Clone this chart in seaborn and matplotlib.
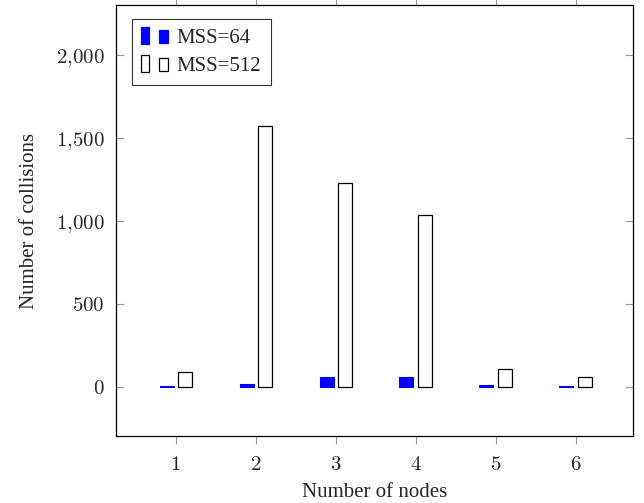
import matplotlib
matplotlib.use("Agg")
import matplotlib.pyplot as plt
import matplotlib.ticker as ticker
from matplotlib.legend_handler import HandlerBase
from matplotlib.patches import Rectangle, Patch
import pandas as pd
import seaborn as sns

# ─── Data ─────────────────────────────────────────────────────────────────────
nodes     = [1, 2, 3, 4, 5, 6]
mss_64    = [8, 20, 62, 62, 14, 8]
mss_512   = [90, 1572, 1230, 1035, 108, 60]
series    = ["MSS=64", "MSS=512"]
y_ticks   = [0, 500, 1000, 1500, 2000]

BLUE = "#0000ff"
TICK = "#9a9a9a"
FS   = 15

df = pd.DataFrame({
    "nodes": nodes * 2,
    "collisions": mss_64 + mss_512,
    "series": [series[0]] * len(nodes) + [series[1]] * len(nodes),
})

sns.set_theme(style="white")
plt.rcParams["font.family"] = ["Liberation Serif", "DejaVu Serif"]
plt.rcParams["mathtext.fontset"] = "cm"

fig = plt.figure(figsize=(6.44, 5.03), dpi=100)
ax = fig.add_axes([0.180, 0.133, 0.803, 0.857])

sns.barplot(
    data=df, x="nodes", y="collisions", hue="series",
    hue_order=series, native_scale=True,
    palette={series[0]: BLUE, series[1]: "white"},
    width=0.46, gap=0.24, ax=ax, legend=False,
    saturation=1, err_kws={"linewidth": 0},
)

# edge colours per series
n = len(nodes)
for i, bar in enumerate(ax.patches):
    if i < n:
        bar.set_edgecolor(BLUE)
        bar.set_linewidth(0.8)
    else:
        bar.set_edgecolor("black")
        bar.set_linewidth(0.9)


class TwoBarHandler(HandlerBase):
    """pgfplots-style ybar legend image: two small bars."""
    def create_artists(self, legend, orig_handle, xdescent, ydescent,
                       width, height, fontsize, trans):
        fc = orig_handle.get_facecolor()
        ec = orig_handle.get_edgecolor()
        w = width * 0.28
        r1 = Rectangle((-xdescent, -ydescent - height * 0.1), w, height * 1.2,
                       facecolor=fc, edgecolor=ec, lw=0.9, transform=trans)
        r2 = Rectangle((-xdescent + width * 0.62, -ydescent), w, height * 0.9,
                       facecolor=fc, edgecolor=ec, lw=0.9, transform=trans)
        return [r1, r2]


handles = [Patch(facecolor=BLUE, edgecolor=BLUE),
           Patch(facecolor="white", edgecolor="black")]
leg = ax.legend(handles, series, handler_map={Patch: TwoBarHandler()},
                loc="upper left", bbox_to_anchor=(0.031, 0.968),
                fontsize=FS, frameon=True, fancybox=False,
                edgecolor="black", handlelength=1.4, handletextpad=0.3,
                borderpad=0.45, labelspacing=0.4, borderaxespad=0)
leg.get_frame().set_linewidth(0.8)

ax.set_xlim(0.25, 6.72)
ax.set_ylim(-295, 2300)
ax.set_xticks(nodes)
ax.set_xticklabels([f"${v}$" for v in nodes])
ax.set_yticks(y_ticks)
ax.yaxis.set_major_formatter(
    ticker.FuncFormatter(lambda v, p: "$" + f"{int(v):,}".replace(",", "{,}") + "$"))
ax.tick_params(axis="y", which="major", direction="in", length=6, width=0.8,
               color=TICK, left=True, right=True, labelsize=FS, pad=8)
ax.tick_params(axis="x", which="major", direction="out", length=6, width=0.8,
               color=TICK, bottom=True, top=True, labelsize=FS, pad=8)

ax.set_xlabel("Number of nodes", fontsize=FS, labelpad=6)
ax.set_ylabel("Number of collisions", fontsize=FS, labelpad=12)

for s in ax.spines.values():
    s.set_color("black")
    s.set_linewidth(0.9)

fig.savefig("out.png", dpi=100, facecolor="white")
